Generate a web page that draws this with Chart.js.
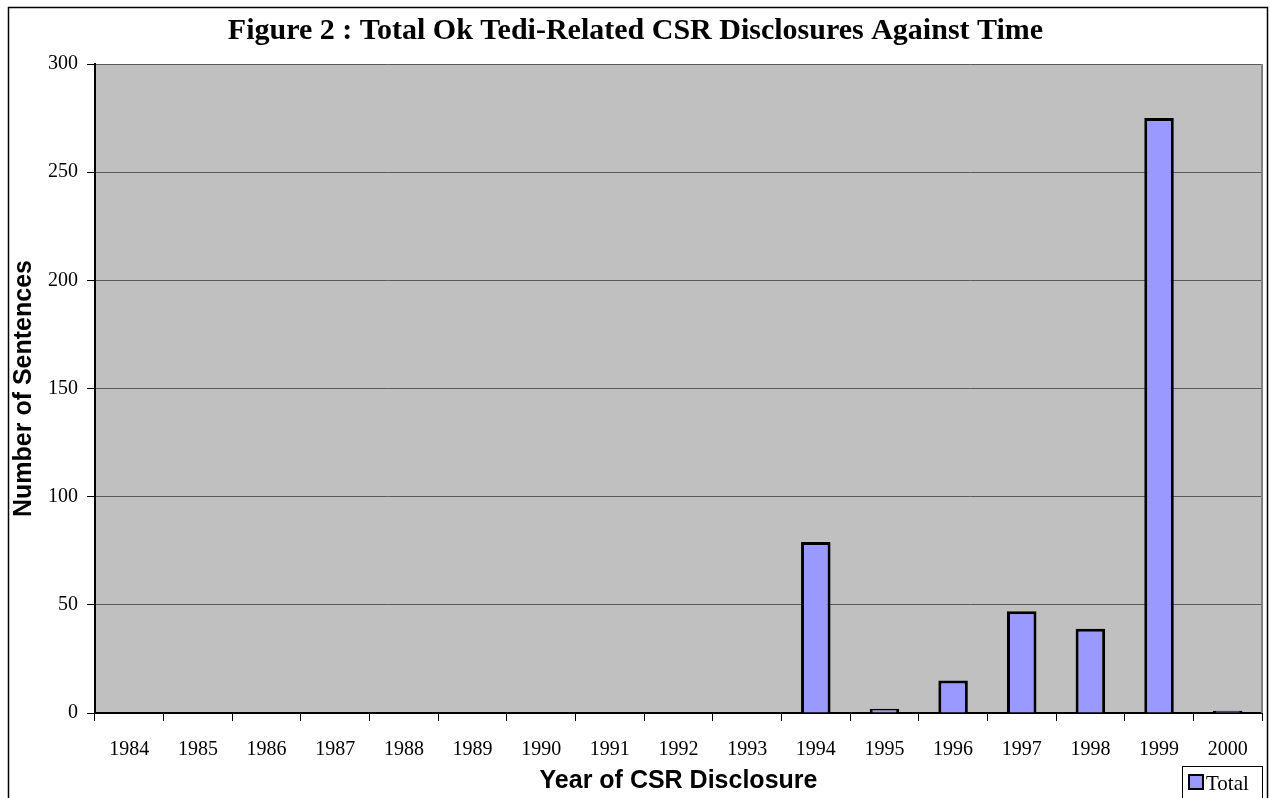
<!DOCTYPE html>
<html>
<head>
<meta charset="utf-8">
<script src="https://cdn.jsdelivr.net/npm/chart.js@4/dist/chart.umd.min.js"></script>
<style>
  html, body { margin: 0; padding: 0; background: #fff; }
  #wrap { width: 1270px; height: 798px; }
</style>
</head>
<body>
<div id="wrap"><canvas id="c" width="1270" height="798"></canvas></div>
<script>
const years = ["1984", "1985", "1986", "1987", "1988", "1989", "1990", "1991", "1992",
               "1993", "1994", "1995", "1996", "1997", "1998", "1999", "2000"];
const totals = [0, 0, 0, 0, 0, 0, 0, 0, 0, 0, 79, 2, 15, 47, 39, 275, 1];
const yTicks = [0, 50, 100, 150, 200, 250, 300];

const serif = "'Liberation Serif', 'Times New Roman', serif";
const sans = "'Liberation Sans', Arial, sans-serif";

// grey plot area, outer frame and the little boxed legend
const frame = {
    id: "frame",
    beforeDraw(chart) {
        const {ctx, chartArea: a} = chart;
        ctx.save();
        ctx.fillStyle = "#fff";
        ctx.fillRect(0, 0, chart.width, chart.height);
        ctx.fillStyle = "#c0c0c0";
        ctx.fillRect(a.left, a.top, a.right - a.left, a.bottom - a.top);
        ctx.strokeStyle = "#000";
        ctx.lineWidth = 1.5;
        ctx.strokeRect(8.5, 7.5, 1259, 820);
        ctx.restore();
    },
    afterDatasetsDraw(chart) {
        const {ctx, chartArea: a} = chart;
        ctx.save();
        ctx.strokeStyle = "#808080";
        ctx.lineWidth = 2;
        ctx.beginPath();
        ctx.moveTo(a.right, a.top);
        ctx.lineTo(a.right, a.bottom);
        ctx.stroke();
        // legend
        const ds = chart.data.datasets[0];
        const lx = 1182, ly = 766;
        ctx.fillStyle = "#fff";
        ctx.fillRect(lx, ly, 80, 40);
        ctx.strokeStyle = "#000";
        ctx.lineWidth = 1;
        ctx.strokeRect(lx + 0.5, ly + 0.5, 80, 40);
        ctx.fillStyle = ds.backgroundColor;
        ctx.fillRect(lx + 7, ly + 9, 14, 14);
        ctx.lineWidth = 2;
        ctx.strokeRect(lx + 7, ly + 9, 14, 14);
        ctx.fillStyle = "#000";
        ctx.font = "21px " + serif;
        ctx.textBaseline = "alphabetic";
        ctx.fillText(ds.label, lx + 24, ly + 24);
        ctx.restore();
    }
};

new Chart(document.getElementById("c"), {
    type: "bar",
    data: {
        labels: years,
        datasets: [{
            label: "Total",
            data: totals,
            backgroundColor: "#9999ff",
            borderColor: "#000",
            borderWidth: 3,
            borderSkipped: "bottom",
            barPercentage: 0.43,
            categoryPercentage: 1.0,
        }]
    },
    options: {
        responsive: false,
        animation: false,
        layout: { padding: { left: 9, right: 8, top: 13, bottom: 2 } },
        plugins: {
            legend: { display: false },
            tooltip: { enabled: false },
            title: {
                display: true,
                text: "Figure 2 : Total Ok Tedi-Related CSR Disclosures Against Time",
                color: "#000",
                font: { family: serif, size: 30, weight: "bold" },
                padding: { top: 0, bottom: 15 }
            }
        },
        scales: {
            x: {
                offset: true,
                grid: { display: true, offset: true, drawOnChartArea: false, color: "#000", tickLength: 8, lineWidth: 1 },
                border: { display: true, color: "#000", width: 2 },
                ticks: { color: "#000", font: { family: serif, size: 20 }, maxRotation: 0, autoSkip: false, padding: 17 },
                title: {
                    display: true,
                    text: "Year of CSR Disclosure",
                    color: "#000",
                    font: { family: sans, size: 25, weight: "bold" },
                    padding: { top: -13, bottom: 0 }
                }
            },
            y: {
                min: 0,
                max: 300,
                afterBuildTicks(axis) { axis.ticks = yTicks.map(v => ({ value: v })); },
                grid: { color: "#5a5a5a", tickColor: "#000", tickLength: 8, lineWidth: 1 },
                border: { display: true, color: "#000", width: 2 },
                ticks: { color: "#000", font: { family: serif, size: 20 }, padding: 9 },
                title: {
                    display: true,
                    text: "Number of Sentences",
                    color: "#000",
                    font: { family: sans, size: 25, weight: "bold" },
                    padding: { top: 0, bottom: 0 }
                }
            }
        }
    },
    plugins: [frame]
});
</script>
</body>
</html>
